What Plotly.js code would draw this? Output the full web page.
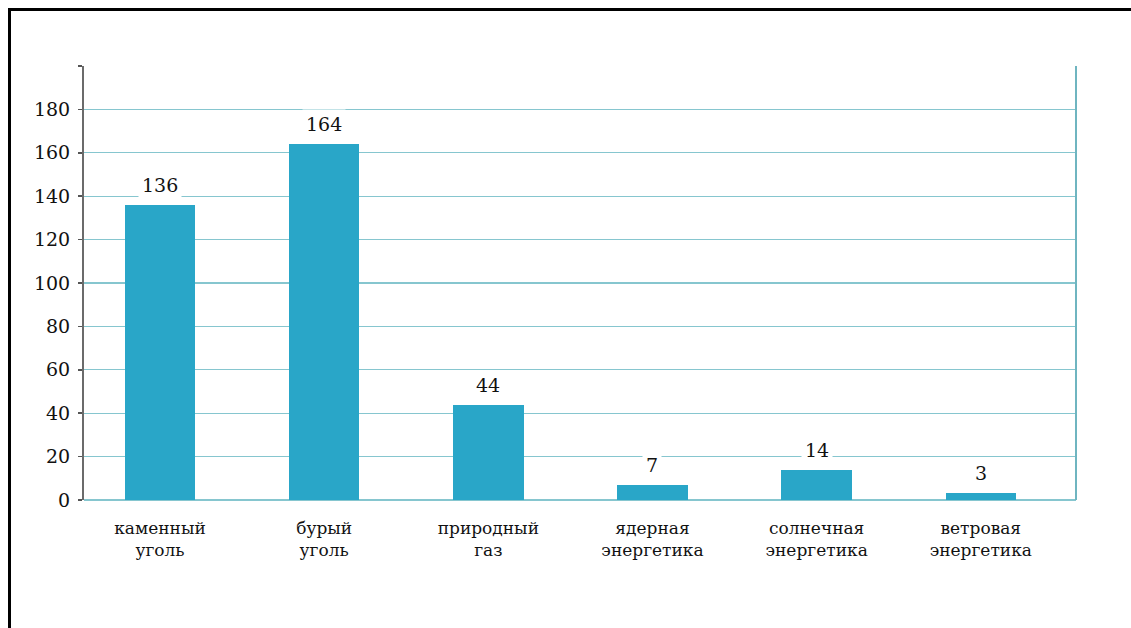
<!DOCTYPE html>
<html>
<head>
<meta charset="utf-8">
<script src="https://cdn.plot.ly/plotly-3.0.1.min.js"></script>
<style>
html,body{margin:0;padding:0;background:#fff;}
#wrap{position:relative;width:1131px;height:628px;}
#chart{position:absolute;left:0;top:0;width:1131px;height:628px;}
#frame{position:absolute;left:8px;top:8px;width:1140px;height:640px;border-top:3px solid #000;border-left:3px solid #000;pointer-events:none;}
</style>
</head>
<body>
<div id="wrap"><div id="chart"></div><div id="frame"></div></div>
<script>
const categories = ["каменный<br>уголь", "бурый<br>уголь", "природный<br>газ", "ядерная<br>энергетика", "солнечная<br>энергетика", "ветровая<br>энергетика"];
const values = [136, 164, 44, 7, 14, 3];
const yTickVals = [0, 20, 40, 60, 80, 100, 120, 140, 160, 180, 200];
const yTickText = ["0", "20", "40", "60", "80", "100", "120", "140", "160", "180", ""];

const barColor = "#29A6C8";
const gridColor = "#86C6CF";
const serif = "DejaVu Serif";

const trace = {
  type: "bar",
  x: categories,
  y: values,
  width: 0.43,
  marker: {color: barColor, line: {width: 0}},
  hoverinfo: "skip"
};

const annotations = values.map((v, i) => ({
  x: categories[i], y: v, xref: "x", yref: "y",
  text: String(v), showarrow: false,
  yanchor: "bottom", yshift: 5,
  bgcolor: "#fff", borderpad: 3,
  font: {family: serif, size: 19, color: "#111"}
}));

const layout = {
  width: 1131, height: 628,
  margin: {l: 84, r: 55, t: 66, b: 128},
  paper_bgcolor: "#fff", plot_bgcolor: "#fff",
  showlegend: false,
  bargap: 0,
  font: {family: serif},
  xaxis: {
    type: "category",
    range: [-0.463, 5.58],
    showgrid: false, showline: false, zeroline: false,
    ticks: "",
    tickfont: {family: serif, size: 17, color: "#111"},
    ticklabelstandoff: 16,
    fixedrange: true
  },
  yaxis: {
    range: [0, 200],
    tickvals: yTickVals, ticktext: yTickText,
    showgrid: true, gridcolor: gridColor, gridwidth: 1.2,
    zeroline: true, zerolinecolor: gridColor, zerolinewidth: 1.2,
    showline: true, linecolor: "#6b6b6b", linewidth: 2,
    ticks: "outside", ticklen: 4, tickcolor: "#555", tickwidth: 1.5,
    ticklabelstandoff: 4,
    tickfont: {family: serif, size: 19, color: "#111"},
    fixedrange: true
  },
  shapes: [
    {type: "line", xref: "paper", yref: "y", x0: 1, x1: 1, y0: 0, y1: 200,
     line: {color: "#6FB5C0", width: 2}}
  ],
  annotations: annotations
};

Plotly.newPlot("chart", [trace], layout, {displayModeBar: false, staticPlot: true});
</script>
</body>
</html>
